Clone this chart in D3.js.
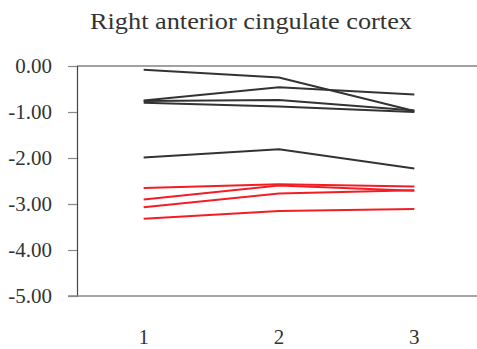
<!DOCTYPE html>
<html>
<head>
<meta charset="utf-8">
<script src="https://cdn.jsdelivr.net/npm/d3@7/dist/d3.min.js"></script>
<style>
  html, body { margin: 0; padding: 0; background: #fff; }
  svg { display: block; }
  text { font-family: "Liberation Serif", "Times New Roman", serif; fill: #333; }
</style>
</head>
<body>
<svg id="chart" width="477" height="349"></svg>
<script>
// Sessions on the x axis
const sessions = [1, 2, 3];
const yTicks = [0, -1, -2, -3, -4, -5];

// Subjects in the first group (dark lines)
const groupA = [
  [-0.08, -0.25, -0.98],
  [-0.75, -0.46, -0.62],
  [-0.76, -0.74, -0.97],
  [-0.80, -0.88, -1.00],
  [-1.99, -1.81, -2.23]
];

// Subjects in the second group (red lines)
const groupB = [
  [-2.65, -2.57, -2.62],
  [-2.90, -2.60, -2.71],
  [-3.07, -2.77, -2.70],
  [-3.32, -3.15, -3.11]
];

const svg = d3.select("#chart");
const margin = { left: 77, top: 66, bottom: 296 };

const x = d3.scaleBand().domain(sessions).range([76, 482]).padding(0);
const y = d3.scaleLinear().domain([-5, 0]).range([margin.bottom, margin.top]);

// Title
svg.append("text")
  .attr("x", 251).attr("y", 29)
  .attr("text-anchor", "middle")
  .attr("font-size", 22.5)
  .attr("textLength", 322)
  .attr("lengthAdjust", "spacingAndGlyphs")
  .text("Right anterior cingulate cortex");

// Top frame line
svg.append("line")
  .attr("x1", margin.left).attr("x2", 477)
  .attr("y1", y(0)).attr("y2", y(0))
  .attr("stroke", "#444").attr("stroke-width", 1.2);

// Y axis, plain hyphen for negatives
const fmt = d3.format(".2f");
const yAxis = d3.axisLeft(y)
  .tickValues(yTicks)
  .tickFormat(d => fmt(d).replace("\u2212", "-"))
  .tickSize(9)
  .tickPadding(16);
const gy = svg.append("g").attr("transform", `translate(${margin.left},0)`).call(yAxis);
gy.select(".domain").attr("stroke", "#444").attr("stroke-width", 1.2);
gy.selectAll(".tick line").attr("stroke", "#888").attr("stroke-width", 1.2);
gy.selectAll(".tick text")
  .attr("font-family", "Liberation Serif, serif")
  .attr("font-size", 21).attr("fill", "#3a3a3a");

// X axis
const xAxis = d3.axisBottom(x).tickSize(0).tickPadding(33);
const gx = svg.append("g").attr("transform", `translate(0,${margin.bottom})`).call(xAxis);
gx.select(".domain").remove();
gx.selectAll(".tick text")
  .attr("font-family", "Liberation Serif, serif")
  .attr("font-size", 21).attr("fill", "#3a3a3a");
svg.append("line")
  .attr("x1", 68).attr("x2", 477)
  .attr("y1", y(-5)).attr("y2", y(-5))
  .attr("stroke", "#888").attr("stroke-width", 1.4);

const line = d3.line()
  .x((d, i) => x(sessions[i]) + x.bandwidth() / 2)
  .y(d => y(d));

svg.append("g").selectAll("path").data(groupA).join("path")
  .attr("d", line)
  .attr("fill", "none")
  .attr("stroke", "#333")
  .attr("stroke-width", 2);

svg.append("g").selectAll("path").data(groupB).join("path")
  .attr("d", line)
  .attr("fill", "none")
  .attr("stroke", "#f21d25")
  .attr("stroke-width", 2);
</script>
</body>
</html>
